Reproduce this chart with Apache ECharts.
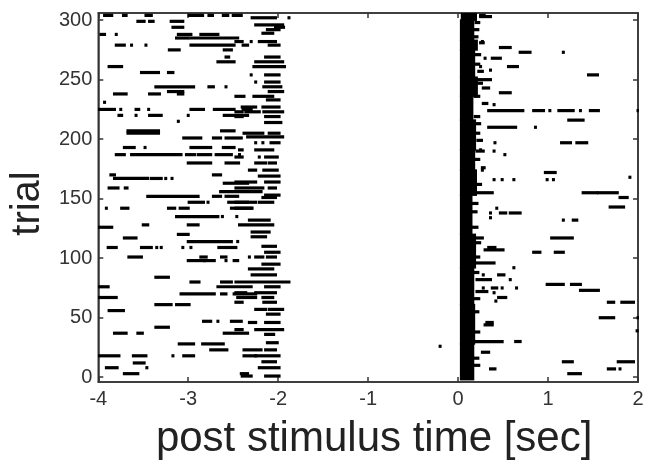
<!DOCTYPE html>
<html>
<head>
<meta charset="utf-8">
<script src="https://cdn.jsdelivr.net/npm/echarts@6/dist/echarts.min.js"></script>
<style>html,body{margin:0;padding:0;background:#fff}#c{width:648px;height:473px}</style>
</head>
<body>
<div id="c"></div>
<script>
// ---- data ----
const xTicks = [-4, -3, -2, -1, 0, 1, 2];
const yTicks = [0, 50, 100, 150, 200, 250, 300];

// spikes / short bursts before stimulus: [trial, tStart, tEnd]
const leftBursts = [
[304,-3.93,-3.85],[304,-3.72,-3.69],[304,-3.47,-3.41],[304,-2.99,-2.84],[304,-2.77,-2.73],[304,-2.61,-2.56],[304,-2.50,-2.41],
[299,-3.56,-3.49],[299,-3.43,-3.39],[299,-3.19,-3.06],
[294,-3.17,-3.06],[294,-2.03,-1.94],
[288,-3.97,-3.93],[288,-3.80,-3.80],[288,-3.11,-2.97],[288,-2.86,-2.67],
[285,-3.13,-3.00],[285,-2.97,-2.45],
[279,-3.80,-3.71],[279,-3.63,-3.63],[279,-3.47,-3.47],[279,-2.97,-2.49],[279,-2.39,-2.34],
[275,-3.21,-3.10],[275,-2.60,-2.52],
[269,-2.58,-2.55],
[265,-2.67,-2.49],
[261,-3.88,-3.74],
[256,-3.52,-3.33],[256,-3.22,-3.17],
[244,-3.36,-2.94],[244,-2.77,-2.72],[244,-2.58,-2.58],
[240,-3.22,-3.06],
[238,-3.82,-3.69],[238,-3.43,-3.32],[238,-3.11,-3.06],
[231,-3.93,-3.93],
[225,-3.99,-3.82],[225,-3.75,-3.75],[225,-3.58,-3.55],[225,-3.44,-3.44],[225,-2.97,-2.83],[225,-2.71,-2.49],[225,-2.39,-2.30],
[220,-3.77,-3.74],[220,-3.58,-3.58],[220,-3.43,-3.30],[220,-3.00,-3.00],[220,-2.60,-2.34],
[215,-3.11,-3.11],
[207,-3.67,-3.33],[207,-2.63,-2.49],
[205,-3.67,-3.33],
[201,-3.05,-2.86],[201,-2.72,-2.64],[201,-2.58,-2.41],
[193,-3.71,-3.60],[193,-3.48,-3.48],[193,-2.97,-2.75],[193,-2.61,-2.49],
[187,-3.80,-3.71],[187,-3.63,-3.08],[187,-3.02,-2.93],[187,-2.89,-2.75],[187,-2.69,-2.52],[187,-2.43,-2.43],
[180,-3.00,-2.75],[180,-2.58,-2.44],
[170,-3.86,-3.82],[170,-2.72,-2.64],
[167,-3.82,-3.45],[167,-3.41,-3.30],[167,-3.25,-3.25],[167,-3.18,-3.18],
[163,-2.60,-2.34],
[159,-3.88,-3.78],[159,-3.70,-3.68],
[156,-2.64,-2.19],
[152,-3.45,-2.89],[152,-2.72,-2.64],[152,-2.58,-2.45],
[147,-2.99,-2.83],[147,-2.78,-2.78],[147,-2.55,-2.34],
[142,-3.91,-3.91],[142,-3.74,-3.67],[142,-3.22,-3.15],[142,-3.09,-3.00],[142,-2.52,-2.30],
[135,-3.13,-2.67],[135,-2.62,-2.62],[135,-2.46,-2.46],
[128,-3.50,-3.45],[128,-3.00,-2.89],
[126,-3.99,-3.85],
[120,-3.11,-3.00],
[117,-3.71,-3.58],
[114,-3.00,-2.52],[114,-2.45,-2.45],
[109,-3.89,-3.80],[109,-3.52,-3.41],[109,-3.35,-3.35],[109,-3.30,-3.30],[109,-3.06,-3.06],[109,-2.97,-2.97],[109,-2.66,-2.47],
[101,-3.66,-3.52],[101,-2.86,-2.80],[101,-2.63,-2.58],
[98,-3.00,-2.82],[98,-2.82,-2.71],[98,-2.58,-2.58],[98,-2.49,-2.45],
[84,-3.36,-3.22],
[80,-2.97,-2.88],[80,-2.63,-2.52],
[76,-4.00,-3.89],[76,-2.67,-2.30],
[70,-3.08,-2.71],[70,-2.63,-2.58],[70,-2.49,-2.25],
[67,-3.99,-3.80],[67,-2.45,-2.25],
[61,-3.36,-3.19],[61,-3.13,-2.99],
[56,-3.88,-3.72],
[47,-2.83,-2.75],[47,-2.67,-2.67],[47,-2.52,-2.41],
[42,-3.36,-3.22],
[37,-3.82,-3.69],[37,-3.56,-3.51],[37,-2.60,-2.34],
[28,-3.10,-2.94],[28,-2.84,-2.61],
[23,-2.75,-2.57],
[18,-3.99,-3.77],[18,-3.61,-3.47],[18,-3.17,-3.17],[18,-3.05,-2.94],[18,-2.38,-2.25],
[12,-3.60,-3.49],
[8,-3.91,-3.79],[8,-3.46,-3.46],
[3,-3.71,-3.56],[3,-2.41,-2.34]
];

// dense activity around -2.2 .. -1.9 s: [trial, tStart, tEnd]
const clusterBursts = [
[302,-2.29,-2.03],[302,-1.88,-1.88],[296,-2.25,-1.95],[292,-2.12,-1.99],[289,-2.17,-2.06],
[282,-2.47,-2.40],[282,-2.30,-2.30],[282,-2.21,-2.03],[279,-2.10,-1.99],
[269,-2.14,-1.99],[265,-2.25,-1.95],[261,-2.27,-1.93],
[254,-2.30,-2.30],[254,-2.14,-1.99],[248,-2.25,-2.25],[248,-2.14,-1.99],
[244,-2.16,-1.97],[240,-2.10,-1.95],[236,-2.47,-2.38],[236,-2.27,-2.06],[233,-2.12,-1.99],
[227,-2.40,-2.25],[227,-2.17,-1.99],[223,-2.47,-2.40],[223,-2.36,-2.21],[223,-2.16,-1.95],
[219,-2.47,-2.40],[219,-2.14,-1.99],[214,-2.14,-1.97],
[205,-2.38,-2.17],[205,-2.10,-1.99],[202,-2.34,-1.95],
[197,-2.25,-2.25],[197,-2.17,-2.17],[197,-2.08,-1.99],[191,-2.43,-2.40],[191,-2.25,-2.06],
[185,-2.47,-2.40],[185,-2.21,-2.21],[185,-2.14,-2.01],[180,-2.25,-2.14],[180,-2.10,-2.03],
[174,-2.32,-2.25],[174,-2.16,-2.01],[169,-2.21,-1.99],[164,-2.47,-2.25],[164,-2.14,-1.99],
[159,-2.47,-2.17],[159,-2.10,-2.03],[153,-2.14,-1.99],[151,-2.17,-2.03],
[147,-2.47,-2.25],[147,-2.21,-2.06],[142,-2.47,-2.29],[132,-2.32,-2.10],[128,-2.43,-2.06],
[122,-2.29,-2.10],[118,-2.29,-2.14],[110,-2.17,-2.03],[105,-2.14,-1.99],
[101,-2.32,-2.32],[101,-2.25,-2.17],[101,-2.12,-2.03],[95,-2.17,-1.99],[91,-2.32,-2.06],
[86,-2.29,-2.03],[80,-2.47,-1.88],[76,-2.14,-1.99],[71,-2.47,-2.36],[71,-2.25,-2.03],
[67,-2.17,-2.06],[63,-2.47,-2.40],[63,-2.16,-2.03],[57,-2.25,-2.14],[57,-2.10,-1.95],
[53,-2.12,-1.99],[46,-2.32,-2.25],[46,-2.14,-1.99],[40,-2.47,-2.40],[40,-2.25,-1.95],
[36,-2.14,-2.05],[29,-2.12,-2.01],[23,-2.38,-2.19],[23,-2.14,-2.03],[18,-2.25,-1.99],
[13,-2.17,-2.03],[8,-2.21,-1.99],[1,-2.40,-2.30],[1,-2.14,-1.99]
];

// spikes / bursts after stimulus: [trial, tStart, tEnd]
const rightBursts = [
[304,0.25,0.29],[303,0.25,0.36],[282,0.27,0.27],[281,0.25,0.28],[277,0.47,0.58],[273,0.69,0.80],[273,1.17,1.17],
[268,0.30,0.30],[268,0.38,0.47],[261,0.25,0.25],[261,0.56,0.66],[258,0.36,0.36],[257,0.23,0.27],
[254,1.45,1.55],[250,0.21,0.36],[243,0.28,0.34],[239,0.47,0.58],[230,0.28,0.32],[229,0.40,0.40],
[224,0.34,0.72],[224,0.84,0.95],[224,1.02,1.02],[224,1.12,1.28],[224,1.36,1.36],[224,1.47,1.56],[224,2.00,2.00],
[216,1.23,1.39],[210,0.34,0.64],[210,0.86,0.86],
[197,0.41,0.41],[197,1.15,1.25],[197,1.32,1.43],[191,0.25,0.25],[190,0.21,0.28],[190,0.40,0.40],[187,0.52,0.52],
[176,0.27,0.29],[174,0.27,0.27],[172,0.97,1.08],[168,1.91,1.91],
[166,0.40,0.40],[166,0.49,0.49],[166,0.62,0.62],[166,0.99,0.99],[166,1.06,1.06],
[155,0.17,0.38],[155,1.39,1.54],[155,1.56,1.77],[151,1.80,1.88],[143,1.69,1.84],[142,0.43,0.43],
[138,0.36,0.36],[138,0.47,0.53],[138,0.58,0.69],[134,0.36,0.36],[132,1.17,1.17],[132,1.28,1.32],
[117,0.17,0.27],[117,1.04,1.27],[109,0.34,0.41],[107,0.30,0.50],[105,0.84,0.91],[105,1.08,1.17],
[96,0.21,0.40],[92,0.62,0.62],[86,0.28,0.28],[86,0.45,0.51],[82,0.21,0.36],[82,0.58,0.58],
[78,0.99,1.17],[78,1.26,1.36],[75,0.28,0.28],[75,0.38,0.43],[75,0.49,0.49],[75,0.65,0.65],
[73,1.36,1.56],[72,0.21,0.32],[71,0.40,0.40],[67,0.45,0.53],[64,0.42,0.42],[63,1.67,1.73],[63,1.82,1.95],
[50,1.58,1.73],[50,2.00,2.00],[46,0.32,0.38],[44,0.30,0.38],[39,1.99,1.99],
[30,0.17,0.49],[30,0.64,0.69],[26,-0.20,-0.20],[21,0.27,0.34],
[13,1.17,1.27],[13,1.78,1.95],[7,0.36,0.41],[7,1.67,1.74],[7,1.80,1.80],[3,1.23,1.36]
];

// ragged right edge of the response column: [trial, tStart, tEnd]
const columnEdge = [
[298,0.20,0.23],[292,0.19,0.22],[286,0.19,0.21],[271,0.20,0.24],[263,0.20,0.23],[247,0.22,0.26],
[236,0.19,0.23],[219,0.19,0.23],[213,0.20,0.24],[205,0.20,0.23],[199,0.22,0.26],[183,0.20,0.23],
[162,0.21,0.25],[146,0.17,0.21],[139,0.16,0.20],[126,0.17,0.21],[113,0.20,0.24],[101,0.20,0.23],
[88,0.18,0.22],[66,0.19,0.23],[55,0.19,0.22],[38,0.20,0.23],[16,0.18,0.22],[10,0.19,0.23]
];

// dense stimulus-locked response column: [trialFrom, trialTo, tStart, tEnd]
const onsetColumn = [
[300,306,0.03,0.21],[283,300,0.02,0.18],[275,283,0.02,0.22],[252,275,0.02,0.19],
[236,252,0.02,0.22],[216,236,0.02,0.17],[191,216,0.02,0.20],[174,191,0.02,0.19],
[153,174,0.02,0.21],[120,153,0.02,0.16],[92,120,0.02,0.20],[61,92,0.02,0.18],
[28,61,0.02,0.19],[-2,28,0.02,0.18]
];

// ---- drawing ----
const DOT_W = 3, DOT_H = 3.2;
const FONT = "'Liberation Sans', Arial, Helvetica, sans-serif";

function renderBurst(params, api) {
  const t0 = api.value(1), t1 = api.value(2), tr = api.value(0);
  const p0 = api.coord([t0, tr]);
  const p1 = api.coord([t1, tr]);
  const w = Math.max(p1[0] - p0[0], 0) + DOT_W;
  return { type: 'rect',
    shape: { x: p0[0] - DOT_W / 2, y: p0[1] - DOT_H / 2, width: w, height: DOT_H },
    style: { fill: '#000' } };
}
function renderColumn(params, api) {
  const a = api.coord([api.value(2), api.value(1)]);
  const b = api.coord([api.value(3), api.value(0)]);
  return { type: 'rect',
    shape: { x: a[0], y: a[1] - 0.8, width: b[0] - a[0], height: b[1] - a[1] + 1.6 },
    style: { fill: '#000' } };
}

const burstDims = ['trial', 'tStart', 'tEnd'];
const chart = echarts.init(document.getElementById('c'), null, { renderer: 'canvas' });
const axisLineStyle = { color: '#333', width: 1.5 };
chart.setOption({
  animation: false,
  backgroundColor: '#fff',
  grid: { left: 97, right: 10, top: 13, bottom: 91, show: true, borderColor: '#333', borderWidth: 1.5, backgroundColor: 'transparent' },
  xAxis: [{
    type: 'value', min: -4, max: 2, interval: 1,
    axisLine: { show: true, onZero: false, lineStyle: axisLineStyle },
    axisTick: { show: true, inside: true, length: 5, lineStyle: axisLineStyle, customValues: xTicks },
    axisLabel: { fontSize: 20, color: '#333', fontFamily: FONT, margin: 7, customValues: xTicks },
    splitLine: { show: false },
    name: 'post stimulus time [sec]', nameLocation: 'middle', nameGap: 36,
    nameTextStyle: { fontSize: 42, color: '#222', fontFamily: FONT, padding: [0, 0, 0, 12] }
  }, {
    type: 'value', min: -4, max: 2, interval: 1, position: 'top',
    axisLine: { show: true, onZero: false, lineStyle: axisLineStyle },
    axisTick: { show: true, inside: true, length: 5, lineStyle: axisLineStyle, customValues: xTicks },
    axisLabel: { show: false }, splitLine: { show: false }
  }],
  yAxis: [{
    type: 'value', min: -4, max: 306,
    axisLine: { show: true, onZero: false, lineStyle: axisLineStyle },
    axisTick: { show: true, inside: true, length: 5, lineStyle: axisLineStyle, customValues: yTicks },
    axisLabel: { fontSize: 20, color: '#333', fontFamily: FONT, margin: 6, customValues: yTicks },
    splitLine: { show: false },
    name: 'trial', nameLocation: 'middle', nameGap: 48, nameRotate: 90,
    nameTextStyle: { fontSize: 40, color: '#222', fontFamily: FONT, padding: [0, 12, 0, 0] }
  }, {
    type: 'value', min: -4, max: 306, position: 'right',
    axisLine: { show: true, onZero: false, lineStyle: axisLineStyle },
    axisTick: { show: true, inside: true, length: 5, lineStyle: axisLineStyle, customValues: yTicks },
    axisLabel: { show: false }, splitLine: { show: false }
  }],
  series: [
    { type: 'custom', name: 'onset', clip: true, renderItem: renderColumn,
      dimensions: ['trialFrom', 'trialTo', 'tStart', 'tEnd'],
      encode: { x: [2, 3], y: [0, 1] }, data: onsetColumn },
    { type: 'custom', name: 'edge', clip: true, renderItem: renderBurst,
      dimensions: burstDims, encode: { x: [1, 2], y: 0 }, data: columnEdge },
    { type: 'custom', name: 'pre', clip: true, renderItem: renderBurst,
      dimensions: burstDims, encode: { x: [1, 2], y: 0 }, data: leftBursts },
    { type: 'custom', name: 'cluster', clip: true, renderItem: renderBurst,
      dimensions: burstDims, encode: { x: [1, 2], y: 0 }, data: clusterBursts },
    { type: 'custom', name: 'post', clip: true, renderItem: renderBurst,
      dimensions: burstDims, encode: { x: [1, 2], y: 0 }, data: rightBursts }
  ]
});
</script>
</body>
</html>
